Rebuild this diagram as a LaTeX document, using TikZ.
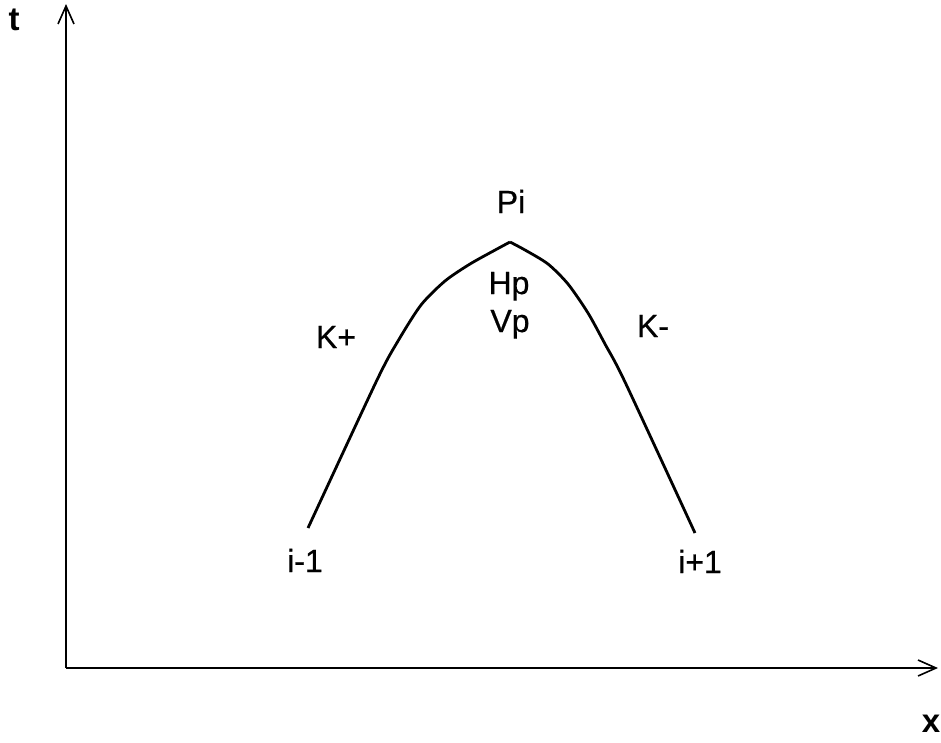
\documentclass[tikz,border=0pt]{standalone}
\usepackage{fontspec}
\setmainfont{Liberation Sans}
\newfontfamily\lblfont{Liberation Sans}[FakeBold=0.6]
\usetikzlibrary{arrows.meta}
\tikzset{
  axis/.style={line width=1.6pt, -{Straight Barb[length=18pt,width=16pt,line width=1.6pt]}},
  curveline/.style={line width=2.8pt, line join=round},
  lbl/.style={anchor=base, inner sep=0pt, font=\fontsize{32}{38}\lblfont},
  axlbl/.style={anchor=base, inner sep=0pt, font=\fontsize{33}{40}\selectfont\bfseries}
}
\begin{document}
\begin{tikzpicture}[x=1pt,y=-1pt]
\useasboundingbox (0,0) rectangle (941,742);
\fill[white] (0,0) rectangle (941,742);
\coordinate (O) at (66,668);
\coordinate (ytip) at (66,4);
\coordinate (xtip) at (938,668);
\draw[axis] (O) -- (ytip);
\draw[axis] (O) -- (xtip);
\node[axlbl] (t) at (14,30) {t};
\node[axlbl] (x) at (931,732) {x};
% curve
\coordinate (A) at (308,528);
\coordinate (P) at (510,242);
\coordinate (B) at (695,533);
\draw[curveline] plot[smooth,tension=0.45] coordinates {(308,528) (377,380) (398,341) (421,305) (445,281) (470,264) (497,249) (510,242)};
\draw[curveline] plot[smooth,tension=0.45] coordinates {(510,242) (525,250) (548,264) (568,284) (588,313) (605,344) (625,382) (695,533)};
\node[lbl] (pi) at (511,213) {Pi};
\node[lbl] (hp) at (509,294) {Hp};
\node[lbl] (vp) at (510,332) {Vp};
\node[lbl] (kp) at (336,348) {K+};
\node[lbl] (km) at (653,337) {K-};
\node[lbl] (im) at (305,572) {i-1};
\node[lbl] (ip) at (700,573) {i+1};
\end{tikzpicture}
\end{document}
